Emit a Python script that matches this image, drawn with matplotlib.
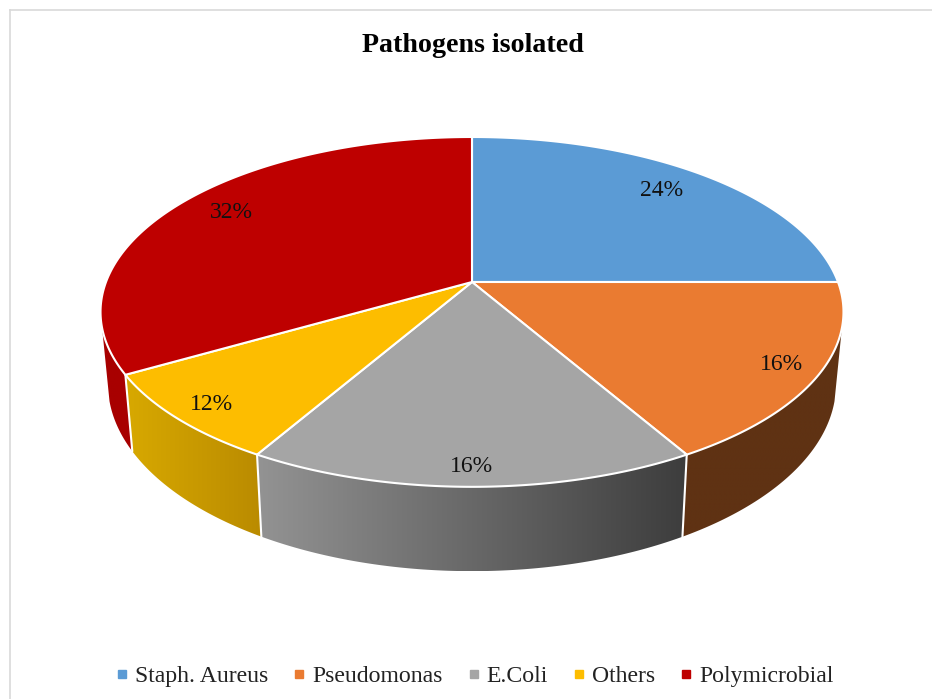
import numpy as np
import matplotlib
matplotlib.use("Agg")
import matplotlib.pyplot as plt
from matplotlib.lines import Line2D
from matplotlib.patches import Polygon
from matplotlib.colors import to_rgb

plt.rcParams['font.family'] = ['Liberation Serif', 'DejaVu Serif']

# data
categories = ["Staph. Aureus", "Pseudomonas", "E.Coli", "Others", "Polymicrobial"]
label_texts = ["24%", "16%", "16%", "12%", "32%"]
drawn_share = [25.0, 16.67, 16.67, 8.33, 33.33]   # slice sizes as drawn in the picture
colors = ["#5B9BD5", "#EA7B31", "#A5A5A5", "#FDBD00", "#BE0000"]
wall_left = ["#3A6D9E", "#5F3213", "#939393", "#D8A900", "#A80000"]
wall_right = ["#3A6D9E", "#5F3213", "#3D3D3D", "#BA8B00", "#A80000"]
label_xy = [(662, 191), (781, 365), (471, 467), (211, 405), (231, 213)]

# perspective of the disc
CX, CY = 472, 282
A, B, K = 366.0, 169.8, 0.171
DROP, SX, SY = 70.0, 0.98, 1.07
WALL_FROM, WALL_TO = np.deg2rad(105), np.deg2rad(255)


def top_rim(theta):
    u, v = np.sin(theta), np.cos(theta)
    d = 1 + K * v
    return CX + A * u / d, CY - B * v / d


def bottom_rim(theta):
    x, y = top_rim(theta)
    return CX + SX * (x - CX), CY + DROP + SY * (y - CY)


fig = plt.figure(figsize=(9.32, 6.99), dpi=100, facecolor="white")
ax = fig.add_axes([0, 0, 1, 1])
ax.axis("off")

# frame
ax.plot([10, 10], [699, 10], color="#D9D9D9", lw=1.2, zorder=0)
ax.plot([10, 932], [10, 10], color="#D9D9D9", lw=1.2, zorder=0)

bounds = np.deg2rad(np.concatenate([[0], np.cumsum(drawn_share)]) / np.sum(drawn_share) * 360)

# walls: a horizontal colour ramp clipped to each wedge's side face
for i in range(len(drawn_share)):
    t0, t1 = max(bounds[i], WALL_FROM), min(bounds[i + 1], WALL_TO)
    if t1 <= t0:
        continue
    ts = np.linspace(t0, t1, 200)
    xt, yt = top_rim(ts)
    xb, yb = bottom_rim(ts)
    poly = np.column_stack([np.r_[xt, xb[::-1]], np.r_[yt, yb[::-1]]])
    cl, cr = np.array(to_rgb(wall_left[i])), np.array(to_rgb(wall_right[i]))
    ramp = np.linspace(0, 1, 256)[None, :, None]
    img = cl[None, None, :] + (cr - cl)[None, None, :] * ramp
    im = ax.imshow(img, extent=(poly[:, 0].min(), poly[:, 0].max(), poly[:, 1].max(), poly[:, 1].min()),
                   aspect="auto", interpolation="bilinear", zorder=2)
    clip = Polygon(poly, closed=True, transform=ax.transData, facecolor="none", edgecolor="none")
    ax.add_patch(clip)
    im.set_clip_path(clip)

ax.set_xlim(0, 932)
ax.set_ylim(699, 0)

# wall dividers
for b in bounds[1:5]:
    x0, y0 = top_rim(b)
    x1, y1 = bottom_rim(b)
    if WALL_FROM < b < WALL_TO:
        ax.plot([x0, x1], [y0, y1], color="white", lw=1.5, zorder=3, solid_capstyle="round")

# top faces
for i in range(len(drawn_share)):
    ts = np.linspace(bounds[i], bounds[i + 1], 200)
    x, y = top_rim(ts)
    ax.fill(np.r_[CX, x], np.r_[CY, y], facecolor=colors[i], edgecolor="white", lw=1.5,
            joinstyle="round", zorder=4)

for txt, (lx, ly) in zip(label_texts, label_xy):
    ax.text(lx, ly, txt, ha="center", va="center", fontsize=17, color="#111111", zorder=5)

ax.text(473, 46, "Pathogens isolated", ha="center", va="center", fontsize=20.2,
        fontweight="bold", color="black")

handles = [Line2D([], [], linestyle="none", marker="s", markersize=6.3, color=c) for c in colors]
ax.legend(handles, categories, loc="center", bbox_to_anchor=(474.5 / 932, 1 - 676 / 699), ncol=5,
          frameon=False, fontsize=17.1, handlelength=0.55, handletextpad=0.28, columnspacing=1.02,
          labelcolor="#222222", borderpad=0)

fig.savefig("out.png", dpi=100, facecolor="white")
